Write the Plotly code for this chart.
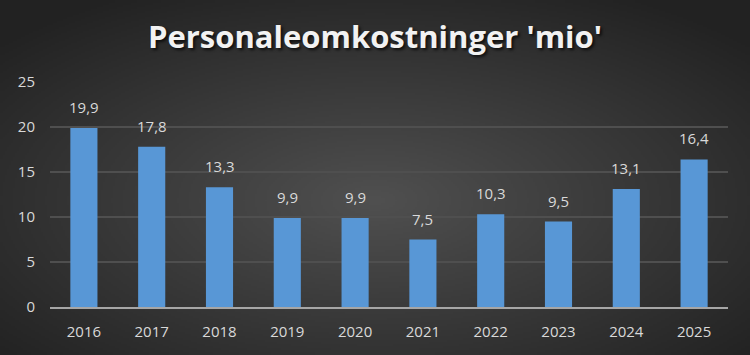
import base64, struct, zlib
import numpy as np
import plotly.graph_objects as go

years = ["2016", "2017", "2018", "2019", "2020", "2021", "2022", "2023", "2024", "2025"]
values = [19.9, 17.8, 13.3, 9.9, 9.9, 7.5, 10.3, 9.5, 13.1, 16.4]
labels = ["19,9", "17,8", "13,3", "9,9", "9,9", "7,5", "10,3", "9,5", "13,1", "16,4"]
y_ticks = [0, 5, 10, 15, 20, 25]

W, H = 750, 355
L, R, T, B = 50, 22, 82, 48
PW, PH = W - L - R, H - T - B


def radial_png(w, h, cx, cy, c_in, c_out):
    xs = (np.arange(w) - cx) / (w / 2)
    ys = (np.arange(h) - cy) / (h / 2)
    X, Y = np.meshgrid(xs, ys)
    r = np.clip(np.sqrt(X ** 2 + Y ** 2) / 1.35, 0, 1)
    c_in = np.array(c_in, float)
    c_out = np.array(c_out, float)
    img = (c_in[None, None, :] * (1 - r[..., None]) + c_out[None, None, :] * r[..., None]).astype(np.uint8)
    raw = b"".join(b"\x00" + img[i].tobytes() for i in range(h))

    def chunk(tag, data):
        c = tag + data
        return struct.pack(">I", len(data)) + c + struct.pack(">I", zlib.crc32(c) & 0xffffffff)

    png = b"\x89PNG\r\n\x1a\n" + chunk(b"IHDR", struct.pack(">IIBBBBB", w, h, 8, 2, 0, 0, 0)) \
        + chunk(b"IDAT", zlib.compress(raw, 9)) + chunk(b"IEND", b"")
    return "data:image/png;base64," + base64.b64encode(png).decode()


bg = radial_png(375, 178, 187, 100, (80, 80, 80), (34, 34, 34))

fig = go.Figure(go.Bar(
    x=years, y=values,
    marker=dict(color="#5897d6", line=dict(width=0)),
    hoverinfo="skip",
))

# category axis: annotation x given as category index
for i, (v, lab) in enumerate(zip(values, labels)):
    fig.add_annotation(x=i, y=v, text=lab, showarrow=False, yanchor="bottom", yshift=9,
                       font=dict(family="Open Sans, sans-serif", size=15, color="#d9d9d9"))

fig.update_layout(
    width=W, height=H,
    margin=dict(l=L, r=R, t=T, b=B),
    paper_bgcolor="#2e2e2e", plot_bgcolor="rgba(0,0,0,0)",
    bargap=0.6,
    showlegend=False,
    title=dict(text="<b>Personaleomkostninger 'mio'</b>", x=0.5, xanchor="center", xref="container",
               y=1 - 37 / H, yanchor="middle", yref="container",
               font=dict(family="Open Sans, sans-serif", size=31, color="#f2f2f2",
                         shadow="2px 2px 3px rgba(0,0,0,0.7)")),
    images=[dict(source=bg, xref="paper", yref="paper", x=-L / PW, y=1 + T / PH,
                 sizex=W / PW, sizey=H / PH, sizing="stretch", layer="below", xanchor="left", yanchor="top")],
    font=dict(family="Open Sans, sans-serif", size=15, color="#d9d9d9"),
)
fig.update_xaxes(type="category", range=[-0.5, len(years) - 0.5], showgrid=False, showline=True,
                 linecolor="#a6a6a6", linewidth=2,
                 ticks="", ticklabelstandoff=10, tickfont=dict(size=15, color="#d9d9d9"))
fig.update_yaxes(range=[0, 25], tickvals=y_ticks, showgrid=True, gridcolor="#4f4f4f", gridwidth=2,
                 zeroline=False, showline=False, ticks="", ticklabelstandoff=14,
                 tickfont=dict(size=15, color="#d9d9d9"))

fig.write_html("out.html")
